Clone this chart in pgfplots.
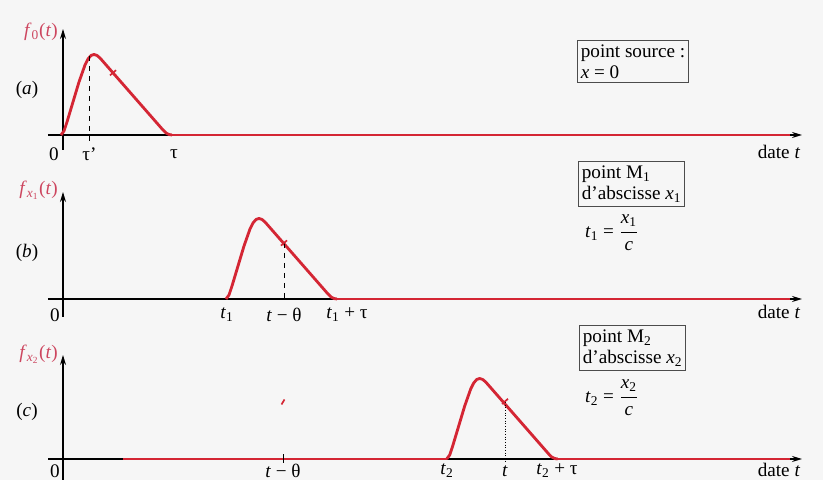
\documentclass[border=0pt]{standalone}
\usepackage{pgfplots}
\pgfplotsset{compat=1.18}
\usepackage{pgfplotstable}
\usepackage{fontspec}
\setmainfont{Liberation Serif}
\usetikzlibrary{arrows.meta}

\definecolor{bg}{RGB}{246,246,246}
\definecolor{pulsered}{RGB}{212,38,52}
\definecolor{flab}{RGB}{205,70,95}

\newcommand{\sub}[1]{\textsubscript{#1}}

% pulse shape, time counted from the start of the pulse
\pgfplotstableread{
t    y
0    0
3    4
6    13
12   33
18   53
24   70
27   76
30   79.5
33   80.5
36   79.5
39   77
102  5
105  2
108  0.5
111  0
}\shape

\pgfplotsset{
  panel/.style={
    axis lines=middle,
    x=0.6pt, y=0.6pt,
    xmin=-15, xmax=739,
    ticks=none,
    clip=false,
    anchor=south west,
    axis line style={line width=0.8pt, -{Stealth[length=6pt,width=3.6pt]}},
  },
  curve/.style={pulsered, line width=1.7pt, line join=round},
  tail/.style={pulsered, line width=0.9pt},
}
\tikzset{
  box/.style={draw=black!70, line width=0.6pt, align=left, anchor=north west,
    inner xsep=2pt, inner ysep=2.5pt},
  flabel/.style={flab, anchor=east, inner sep=0pt},
}

\begin{document}
\fontsize{11.5}{12.5}\selectfont
\begin{tikzpicture}
\useasboundingbox (0,0) rectangle (493.8pt,288pt);
\fill[bg] (0,0) rectangle (493.8pt,288pt);

% (a) point source
\begin{axis}[panel, ymin=-15, ymax=106, at={(28.8pt,198pt)}]
  \addplot[tail] coordinates {(108,0) (727,0)};
  \addplot[curve] table[x expr=\thisrow{t}-2, y=y] {\shape};
  \addplot[black, dashed, line width=0.6pt] coordinates {(26.5,79) (26.5,-6)};
  \addplot[pulsered, line width=1pt] coordinates {(47,59.6) (53,64.8)};
  \node at (axis cs:-9,-19) {0};
  \node at (axis cs:26.5,-19) {τ’};
  \node at (axis cs:111,-19) {τ};
  \node at (axis cs:716,-17) {date \textit{t}};
  \node[flabel] at (axis cs:-5,103) {\textit{f}\sub{0}(\textit{t})};
  \node at (axis cs:-36,45) {(\textit{a})};
  \node[box] at (axis cs:514,95) {point source :\\\textit{x} = 0};
\end{axis}

% (b) point M1
\begin{axis}[panel, ymin=-18, ymax=107, at={(28.8pt,97.8pt)}]
  \addplot[tail] coordinates {(274,0) (727,0)};
  \addplot[curve] table[x expr=\thisrow{t}+163, y=y] {\shape};
  \addplot[black, dashed, line width=0.6pt] coordinates {(221,56) (221,-3)};
  \addplot[pulsered, line width=1pt] coordinates {(218,53.4) (224,58.6)};
  \node at (axis cs:-8,-16) {0};
  \node at (axis cs:164,-16) {\textit{t}\sub{1}};
  \node at (axis cs:221,-16) {\textit{t} − θ};
  \node at (axis cs:284,-16) {\textit{t}\sub{1} + τ};
  \node at (axis cs:716,-13) {date \textit{t}};
  \node[flabel] at (axis cs:-5,109) {\textit{f}\textsubscript{\textit{x}\textsubscript{1}}(\textit{t})};
  \node at (axis cs:-36,46) {(\textit{b})};
  \node[box] at (axis cs:515,138) {point M\sub{1}\\d’abscisse \textit{x}\sub{1}};
  \node at (axis cs:549,66) {\textit{t}\sub{1} = $\displaystyle\frac{\mbox{\textit{x}\sub{1}}}{\mbox{\textit{c}}}$};
\end{axis}

% (c) point M2
\begin{axis}[panel, ymin=-21, ymax=104, at={(28.8pt,0pt)}]
  \addplot[tail] coordinates {(60,0) (384,0)};
  \addplot[tail] coordinates {(494,0) (727,0)};
  \addplot[curve] table[x expr=\thisrow{t}+383.7, y=y] {\shape};
  \addplot[black, line width=0.6pt, dash pattern=on 0.7pt off 0.9pt] coordinates {(442,57) (442,-3)};
  \addplot[pulsered, line width=1pt] coordinates {(439,55) (445,60.2)};
  \addplot[black, line width=0.6pt] coordinates {(220,-4) (220,5)};
  \addplot[pulsered, line width=1pt] coordinates {(218.5,54.5) (221.5,59.5)};
  \node at (axis cs:-8,-12) {0};
  \node at (axis cs:220,-12) {\textit{t} − θ};
  \node at (axis cs:384,-12) {\textit{t}\sub{2}};
  \node at (axis cs:442,-12) {\textit{t}};
  \node at (axis cs:494,-12) {\textit{t}\sub{2} + τ};
  \node at (axis cs:716,-11) {date \textit{t}};
  \node[flabel] at (axis cs:-5,105) {\textit{f}\textsubscript{\textit{x}\textsubscript{2}}(\textit{t})};
  \node at (axis cs:-36,47) {(\textit{c})};
  \node[box] at (axis cs:516,134) {point M\sub{2}\\d’abscisse \textit{x}\sub{2}};
  \node at (axis cs:549,61) {\textit{t}\sub{2} = $\displaystyle\frac{\mbox{\textit{x}\sub{2}}}{\mbox{\textit{c}}}$};
\end{axis}
\end{tikzpicture}
\end{document}
